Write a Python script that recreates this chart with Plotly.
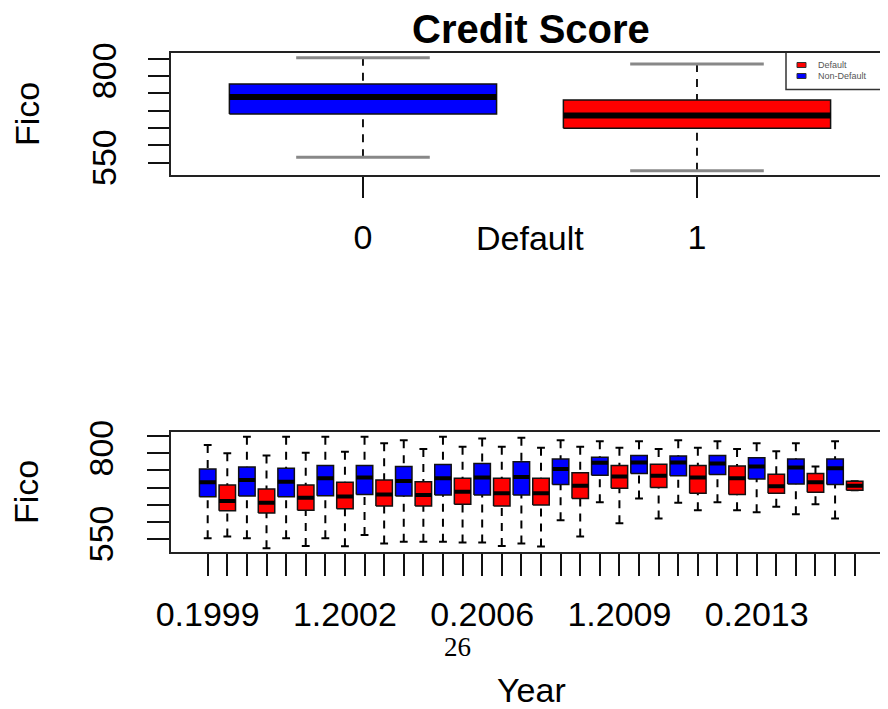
import plotly.graph_objects as go

# ---------------- data ----------------
top_categories = ["0", "1"]
top_colors = ["#0000FF", "#FF0000"]
top_lower = [566, 527]
top_q1 = [690, 649]
top_median = [739, 686]
top_q3 = [777, 731]
top_upper = [852, 834]

years = list(range(1999, 2016))
bot_categories = [f"{d}.{y}" for y in years for d in (0, 1)]
bot_shown_labels = ["0.1999", "1.2002", "0.2006", "1.2009", "0.2013"]
bot_upper = [824, 799.5, 848, 793, 848, 801, 848, 804, 848, 829, 838, 812, 848, 819, 843, 819,
             845, 816, 838, 819, 835, 816, 835, 812, 838, 816, 835, 812, 829, 806, 829, 761, 835, 718]
bot_q3 = [754, 707, 760, 696, 756, 707, 764, 715, 764, 722, 761, 717, 767, 727, 770, 727,
          775, 727, 783, 743, 788, 764, 793, 768, 792, 764, 793, 763, 787, 739, 783, 741, 783, 718]
bot_median = [715, 661, 722, 656, 717, 670, 727, 674, 729, 680, 719, 678, 727, 688, 729, 683,
              731, 683, 754, 705, 772, 732, 773, 734, 773, 729, 770, 727, 761, 704, 758, 715, 756, 705]
bot_q1 = [673, 632, 675, 626, 673, 634, 676, 638, 680, 646, 675, 646, 678, 651, 678, 646,
          678, 649, 709, 668, 736, 698, 741, 700, 734, 683, 738, 680, 725, 683, 710, 686, 709, 692]
bot_lower = [552, 557, 552, 523, 552, 530, 552, 529, 562, 537, 542, 542, 542, 540, 540, 530,
             537, 528, 605, 557, 657, 596, 668, 610, 656, 634, 657, 634, 628, 644, 622, 651, 610, 692]
bot_colors = ["#0000FF" if c.startswith("0") else "#FF0000" for c in bot_categories]

y_ticks = [550, 600, 650, 700, 750, 800, 850]
y_ticktext = ["550", "", "", "", "", "800", ""]

legend_labels = ["Default", "Non-Default"]
legend_colors = ["#FF0000", "#0000FF"]

FONT = "Liberation Sans, Arial, Helvetica, sans-serif"
# the page body keeps its 8px margin, so the figure covers the visible 880x701 area
OFF = 8
W, H = 888 - OFF, 709 - OFF

fig = go.Figure()


def add_boxes(xa, ya, lower, q1, med, q3, upper, colors, hw, sw, med_w, box_lw,
              cap_color, cap_w, wh_w):
    n = len(med)
    # whiskers (dashed, starting at the whisker end)
    wx, wy = [], []
    for i in range(n):
        wx += [i, i, None, i, i, None]
        wy += [upper[i], q3[i], None, lower[i], q1[i], None]
    fig.add_trace(go.Scatter(x=wx, y=wy, mode="lines", xaxis=xa, yaxis=ya,
                             line=dict(color="black", width=wh_w, dash="8px,7px"),
                             hoverinfo="skip", showlegend=False))
    # staples
    cx, cy = [], []
    for i in range(n):
        cx += [i - sw, i + sw, None, i - sw, i + sw, None]
        cy += [upper[i], upper[i], None, lower[i], lower[i], None]
    fig.add_trace(go.Scatter(x=cx, y=cy, mode="lines", xaxis=xa, yaxis=ya,
                             line=dict(color=cap_color, width=cap_w),
                             hoverinfo="skip", showlegend=False))
    # boxes
    for col in dict.fromkeys(colors):
        bx, by = [], []
        for i in range(n):
            if colors[i] != col:
                continue
            bx += [i - hw, i + hw, i + hw, i - hw, i - hw, None]
            by += [q1[i], q1[i], q3[i], q3[i], q1[i], None]
        fig.add_trace(go.Scatter(x=bx, y=by, mode="lines", fill="toself", fillcolor=col,
                                 xaxis=xa, yaxis=ya,
                                 line=dict(color="#111111", width=box_lw),
                                 hoverinfo="skip", showlegend=False))
    # medians
    mx, my = [], []
    for i in range(n):
        mx += [i - hw, i + hw, None]
        my += [med[i], med[i], None]
    fig.add_trace(go.Scatter(x=mx, y=my, mode="lines", xaxis=xa, yaxis=ya,
                             line=dict(color="black", width=med_w),
                             hoverinfo="skip", showlegend=False))


add_boxes("x", "y", top_lower, top_q1, top_median, top_q3, top_upper, top_colors,
          0.4, 0.2, 6, 1.5, "#888888", 3, 1.8)
add_boxes("x2", "y2", bot_lower, bot_q1, bot_median, bot_q3, bot_upper, bot_colors,
          0.42, 0.2, 4, 1.5, "black", 2, 2)


def px(x):
    return (x - OFF) / W


def py(y):
    return 1 - (y - OFF) / H


axis_common = dict(showgrid=False, zeroline=False, showline=True, linecolor="#222222",
                   linewidth=2, ticks="outside", tickwidth=2, tickcolor="#111111",
                   automargin=False,
                   tickfont=dict(family=FONT, size=34, color="black"))

fig.update_layout(
    width=W, height=H, margin=dict(l=0, r=0, t=0, b=0, pad=0, autoexpand=False),
    paper_bgcolor="white", plot_bgcolor="white", showlegend=False,
    xaxis=dict(domain=[px(170.5), 1], range=[-0.5763, 1.5719], anchor="y", mirror=True,
               tickmode="array", tickvals=list(range(len(top_categories))),
               ticktext=top_categories, ticklen=21, ticklabelstandoff=10, **axis_common),
    yaxis=dict(domain=[py(175), py(53)], range=[514.7, 866], anchor="x",
               tickmode="array", tickvals=y_ticks, ticktext=y_ticktext, tickangle=-90,
               ticklen=21, ticklabelstandoff=18, **axis_common),
    xaxis2=dict(domain=[px(170.5), 1], range=[-1.897, 34.699], anchor="y2", mirror=True,
                tickmode="array", tickvals=list(range(len(bot_categories))),
                ticktext=[c if c in bot_shown_labels else "" for c in bot_categories],
                ticklen=22, ticklabelstandoff=9, **axis_common),
    yaxis2=dict(domain=[py(552.3), py(431.7)], range=[511.3, 862.6], anchor="x2",
                tickmode="array", tickvals=y_ticks, ticktext=y_ticktext, tickangle=-90,
                ticklen=22, ticklabelstandoff=20, **axis_common),
)

ann = [
    dict(text="<b>Credit Score</b>", x=px(531), y=py(29), size=40),
    dict(text="Default", x=px(530), y=py(238), size=34),
    dict(text="Year", x=px(531), y=py(690), size=34),
    dict(text="Fico", x=px(27), y=py(114), size=34, angle=-90),
    dict(text="Fico", x=px(26), y=py(492), size=34, angle=-90),
]
for a in ann:
    fig.add_annotation(text=a["text"], x=a["x"], y=a["y"], xref="paper", yref="paper",
                       xanchor="center", yanchor="middle", showarrow=False,
                       textangle=a.get("angle", 0),
                       font=dict(family=FONT, size=a["size"], color="black"))

fig.add_annotation(text="26", x=px(457), y=py(647), xref="paper", yref="paper",
                   xanchor="center", yanchor="middle", showarrow=False,
                   font=dict(family="Liberation Serif, Times New Roman, serif", size=27,
                             color="black"))

# legend (top-right of first panel)
fig.add_shape(type="path", xref="paper", yref="paper",
              path=f"M {px(786)},{py(53)} L {px(786)},{py(89.5)} L {px(888)},{py(89.5)}",
              line=dict(color="#333333", width=1.5))
for k, (lab, col) in enumerate(zip(legend_labels, legend_colors)):
    yc = 65 + 11 * k
    fig.add_shape(type="rect", xref="paper", yref="paper",
                  x0=px(797), x1=px(806), y0=py(yc - 2.5), y1=py(yc + 2.5),
                  fillcolor=col, line=dict(color="#333333", width=1))
    fig.add_annotation(text=lab, x=px(816), y=py(yc), xref="paper", yref="paper",
                       xanchor="left", yanchor="middle", showarrow=False,
                       font=dict(family=FONT, size=9, color="#555555"))

fig.write_html("out.html")
